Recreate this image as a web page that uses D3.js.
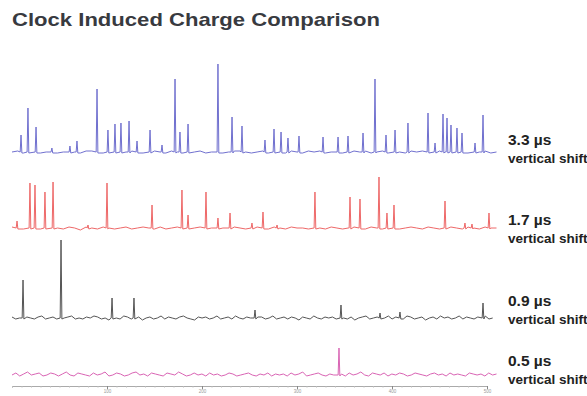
<!DOCTYPE html>
<html><head><meta charset="utf-8">
<script src="https://cdn.jsdelivr.net/npm/d3@7"></script>
<style>html,body{margin:0;padding:0;background:#fff;}svg{display:block;}</style>
</head><body>
<svg id="chart" width="587" height="396"></svg>
<script>
// ---- data ----
const title = "Clock Induced Charge Comparison";
const seriesNames = ["3.3 µs", "1.7 µs", "0.9 µs", "0.5 µs"];
const shiftLabel = "vertical shift";
const shifts = [234, 158, 68, 11];          // vertical shift of each trace (signal units)
const tickValues = [100, 200, 300, 400, 500];
const traceEnd = [510, 510, 506, 510];

// spikes [x, height]
const peaks33 = [[9.5,17],[16.8,44],[25.3,25],[42,4],[61,6],[68.4,11],[89.5,63],[101,22],[108.4,28],[114.7,29],[123.2,31],[131.6,11],[145.3,22],[157.9,7],[171.6,73],[176.8,20],[185.3,28],[216.8,88],[231.6,35],[242.1,26],[266.3,12],[275.8,23],[283.2,20],[290.5,14],[302.1,16],[327.4,15],[343.2,15],[353.7,16],[369.5,19],[382.1,73],[393.7,17],[403.2,22],[416.8,29],[437.9,39],[445.3,9],[453.7,38],[457.9,34],[462.1,27],[468.4,24],[473.7,19],[487.4,9],[495.8,37]];
const peaks17 = [[5.3,7],[18.9,45],[24.2,43],[34.7,36],[43.2,46],[80,3],[100,45],[147.4,23],[178.9,38],[185.3,13],[204.2,36],[216.8,10],[229.5,15],[252.6,5],[264.2,16],[279,3],[318.9,36],[355.8,31],[366.3,29],[386.3,51],[394.7,15],[402.1,23],[455.8,27],[476.8,5],[484.2,4],[502.1,15]];
const peaks09 = [[11.6,38],[51.6,78],[105.3,20],[128.4,20],[255.8,8],[346.3,13],[387.4,5],[408.4,6],[495.8,15]];
const peaks05 = [[344.2,27]];

// baseline wiggles (signal units), evenly sampled across the trace
const noise33 = [0,1,-1,0,1,-1,0,1,-1,0,1,0,-1,1,1,0,-1,0,1,-1,0,1,1,-1,0,1,0,-1,1,0,-1,1,0,1,-1,0,1,-1,0,1,1,0,-1,0,1,-1,1,0,-1,1,0,-1,1,0,1,-1,0,1,-1,0,1,0,1,-1,0,1,-1,1,0,-1,1,0,1,-1,0,1,0,-1,1,0,-1,1,0,1,-1,0];
const noise17 = [1,0,-1,1,0,-1,0,1,0,-1,1,0,-2,1,0,-1,1,0,-1,0,1,-1,0,1,0,-1,1,-1,0,1,0,-1,0,1,-1,0,1,0,-1,1,0,-1,0,1,0,-1,1,0,-1,1,0,0,-1,1,0,-1,1,0,-1,0,1,0,-1,1,0,-1,0,1,-1,0,1,0,-1,1,0,-1,0,1,0,-1,1,0,-1,1,0,0];
const noise09 = [1,-1,0,-2,1,0,-1,1,2,-1,0,1,-1,-2,0,1,2,-1,0,-1,1,0,2,1,-1,0,-2,1,0,-1,2,1,-1,0,1,-2,0,1,-1,0,2,-1,1,0,-1,1,2,0,-1,-2,1,0,1,-1,0,2,-1,0,1,-1,2,0,-1,1,0,-2,1,1,-1,0,2,-1,0,1,-1,1,0,-2,1,0,-1,2,0,-1,1,0,1,-1,2,0,-1,1,-2,0,1,2,-1,0,1,-1,0,2,-1,1,0,-1,2,1,-1,0,1,-2,0,1,-1,2,0,1,-1,0,2,-1,1,0,-1,1,0,2,-1,0];
const noise05 = [0,2,-1,1,3,0,1,2,-1,0,2,1,-1,1,3,0,-1,2,1,0,-1,2,0,1,3,-1,0,2,1,-1,0,2,3,0,1,-1,2,1,0,-1,2,1,0,3,1,-1,0,2,0,1,-1,2,0,1,-1,0,2,1,-1,0,1,2,0,-1,1,0,2,-1,1,0,1,-1,2,0,1,3,-1,0,1,2,0,-1,1,0,2,1,-1,2,0,1,3,0,-1,2,1,0,2,-1,1,0,2,1,-1,0,2,1,0,-1,1,2,0,1,-1,2,0,1,0,-1,2,1,0,1,-1,2,0,1];

const allPeaks = [peaks33, peaks17, peaks09, peaks05];
const allNoise = [noise33, noise17, noise09, noise05];
const colors = ["#7070cf", "#ee6868", "#555555", "#d964b4"];

// ---- chart ----
const svg = d3.select("#chart");
const x = d3.scaleLinear().domain([0, 500]).range([12, 487]);
const y = d3.scaleLinear().domain([0, 380]).range([386, 6]);

svg.append("text")
  .attr("x", 12).attr("y", 26)
  .attr("font-family", "Liberation Sans, Arial, sans-serif")
  .attr("font-weight", "bold").attr("font-size", 19)
  .attr("fill", "#383a40")
  .attr("textLength", 368).attr("lengthAdjust", "spacingAndGlyphs")
  .text(title);

const line = d3.line().x(d => x(d[0])).y(d => y(d[1]));

allPeaks.forEach((pk, i) => {
  const nz = allNoise[i];
  const end = traceEnd[i];
  const step = end / (nz.length - 1);
  let pts = nz.map((v, k) => [k * step, v]);
  pts = pts.filter(p => !pk.some(q => Math.abs(q[0] - p[0]) < 1.6));
  pk.forEach(q => {
    pts.push([q[0] - 0.9, 0]);
    pts.push([q[0], q[1]]);
    pts.push([q[0] + 0.9, -1]);
  });
  pts.sort((a, b) => a[0] - b[0]);
  pts = pts.map(p => [p[0], p[1] + shifts[i]]);
  svg.append("path").datum(pts)
    .attr("fill", "none")
    .attr("stroke", colors[i])
    .attr("stroke-width", 1)
    .attr("stroke-linejoin", "round")
    .attr("d", line);
});

// axis
const minor = d3.range(0, 501, 10);
const gMinor = svg.append("g").attr("transform", `translate(0,${y(0)})`)
  .call(d3.axisBottom(x).tickValues(minor).tickSize(1.5).tickFormat(""));
gMinor.select(".domain").attr("stroke", "#aaa").attr("stroke-width", 1);
gMinor.selectAll(".tick line").attr("stroke", "#bbb");

const gMajor = svg.append("g").attr("transform", `translate(0,${y(0)})`)
  .call(d3.axisBottom(x).tickValues(tickValues).tickSize(3).tickPadding(1));
gMajor.select(".domain").remove();
gMajor.selectAll(".tick line").attr("stroke", "#888");
gMajor.selectAll(".tick text").attr("font-size", 4.5).attr("fill", "#999")
  .attr("font-family", "Liberation Sans, Arial, sans-serif");

// right-hand labels
const labelBase = [145, 225, 306, 366];
seriesNames.forEach((s, i) => {
  svg.append("text")
    .attr("x", 508).attr("y", labelBase[i])
    .attr("font-family", "Liberation Sans, Arial, sans-serif")
    .attr("font-weight", "bold").attr("font-size", 15.5)
    .attr("fill", "#222").text(s);
  svg.append("text")
    .attr("x", 508).attr("y", labelBase[i] + 18)
    .attr("font-family", "Liberation Sans, Arial, sans-serif")
    .attr("font-weight", "bold").attr("font-size", 13.5)
    .attr("fill", "#222").text(shiftLabel);
});
</script>
</body></html>
